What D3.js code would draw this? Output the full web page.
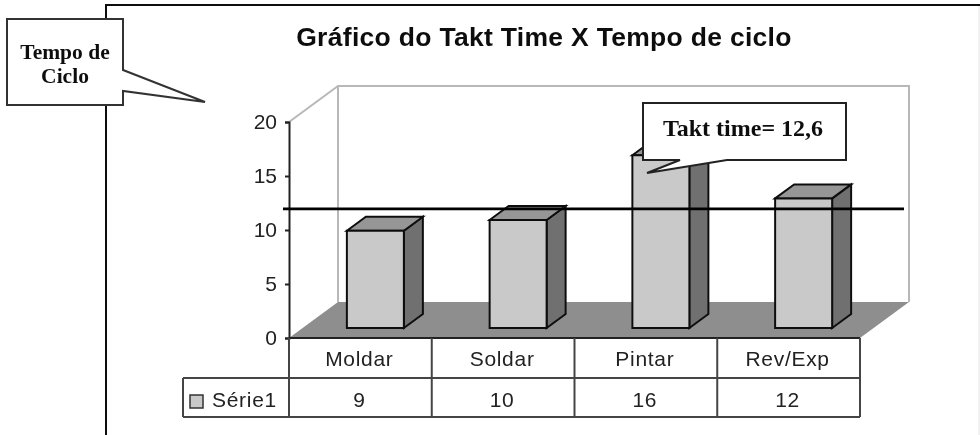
<!DOCTYPE html>
<html><head><meta charset="utf-8">
<script src="https://cdn.jsdelivr.net/npm/d3@7"></script>
<style>html,body{margin:0;padding:0;background:#fff}svg{display:block}</style>
</head><body><svg id="c" width="980" height="435"><defs><filter id="soft" x="0" y="0" width="980" height="435" filterUnits="userSpaceOnUse"><feGaussianBlur stdDeviation="0.5"/></filter></defs><g id="root" filter="url(#soft)"><rect width="980" height="435" fill="#fff"></rect></g></svg>
<script>
const categories = ["Moldar","Soldar","Pintar","Rev/Exp"];
const values = [9,10,16,12];
const yTicks = [0,5,10,15,20];
const seriesName = "Série1";
const taktLineLevel = 11.95;
const title = "Gráfico do Takt Time X Tempo de ciclo";
const taktLabel = "Takt time= 12,6";
const cycleLabel = ["Tempo de","Ciclo"];

const svg = d3.select("#root");
const sans = "'Liberation Sans',Arial,sans-serif", serif = "'Liberation Serif','Times New Roman',serif";
const x = d3.scaleBand().domain(categories).range([289,860]);
const y = d3.scaleLinear().domain([0,20]).range([338,122]);
const wallDx = 49, wallDy = 36;
const barDx = 15, barDy = 10, depthDx = 19, depthDy = 14, barW = 57;
const poly = (pts,fill,stroke,sw) => svg.append("polygon").attr("points",pts.map(p=>p.join(",")).join(" "))
  .attr("fill",fill).attr("stroke",stroke||"none").attr("stroke-width",sw||0).attr("stroke-linejoin","miter");
const line = (x1,y1,x2,y2,stroke,sw) => svg.append("line").attr("x1",x1).attr("y1",y1).attr("x2",x2).attr("y2",y2).attr("stroke",stroke).attr("stroke-width",sw);

// page frame
line(106,5,980,5,"#111",2.2);
line(106,4,106,435,"#111",2);
line(979,6,979,435,"#e4e4e4",1);

// title
svg.append("text").attr("x",544).attr("y",46).attr("text-anchor","middle")
  .attr("font-family",sans).attr("font-weight","bold").attr("font-size",26.5).attr("letter-spacing",0.3).attr("fill","#111").text(title);

// walls & floor
const x0=x.range()[0], x1=x.range()[1], y0=y(0), yT=y(20);
svg.append("path").attr("fill","none").attr("stroke","#b8b8b8").attr("stroke-width",2)
  .attr("d",`M${x0},${yT}L${x0+wallDx},${yT-wallDy}H${x1+wallDx}V${y0-wallDy}M${x0+wallDx},${yT-wallDy}V${y0-wallDy}`);
poly([[x0,y0],[x0+wallDx,y0-wallDy],[x1+wallDx,y0-wallDy],[x1,y0]],"#8e8e8e");

// bars
categories.forEach((c,i)=>{
  const l=x(c)+x.bandwidth()/2-barW/2+barDx, r=l+barW, b=y0-barDy, t=y(values[i])-barDy;
  const s="#111", w=2;
  poly([[r,b],[r+depthDx,b-depthDy],[r+depthDx,t-depthDy],[r,t]],"#707070",s,w);
  poly([[l,t],[l+depthDx,t-depthDy],[r+depthDx,t-depthDy],[r,t]],"#969696",s,w);
  poly([[l,b],[r,b],[r,t],[l,t]],"#c9c9c9",s,w);
});

// y axis
const axis = svg.append("g").attr("transform",`translate(${x0},0)`)
  .call(d3.axisLeft(y).tickValues(yTicks).tickSize(4).tickPadding(8));
axis.selectAll("path,line").attr("stroke","#222").attr("stroke-width",2);
axis.selectAll("text").attr("font-family",sans).attr("font-size",21).attr("fill","#222");

// data table
const rowH=[338,378,417], legL=183, sep=[x0,...categories.map(c=>x(c)+x.bandwidth())];
const tc="#444";
line(x0,rowH[0],x1,rowH[0],"#222",2);
line(legL,rowH[1],x1,rowH[1],tc,2);
line(legL,rowH[2],x1,rowH[2],tc,2);
line(legL,rowH[1],legL,rowH[2],tc,2);
sep.forEach(s=>line(s,rowH[0],s,rowH[2],tc,2));
const cell=(t,cx,cy,a)=>svg.append("text").attr("x",cx).attr("y",cy).attr("text-anchor",a||"middle")
  .attr("font-family",sans).attr("font-size",21).attr("letter-spacing",0.7).attr("fill","#222").text(t);
categories.forEach((c,i)=>{
  const cx=x(c)+x.bandwidth()/2-1;
  cell(c,cx,366);
  cell(values[i],cx,407);
});
svg.append("rect").attr("x",190).attr("y",395).attr("width",13).attr("height",13).attr("fill","#c9c9c9").attr("stroke","#333").attr("stroke-width",1.5);
cell(seriesName,212,407,"start");

// takt line
line(283,y(taktLineLevel),904,y(taktLineLevel),"#000",2.8);

// callouts
poly([[7,19],[123,19],[123,70],[205,102],[123,91],[123,105],[7,105]],"#fff","#333",2);
cycleLabel.forEach((t,i)=>svg.append("text").attr("x",65).attr("y",[59,83][i]).attr("text-anchor","middle")
  .attr("font-family",serif).attr("font-weight","bold").attr("font-size",21.5).attr("fill","#111").text(t));
poly([[643,103],[846,103],[846,160],[727,160],[647,173],[680,160],[643,160]],"#fff","#222",2);
svg.append("text").attr("x",743).attr("y",136).attr("text-anchor","middle")
  .attr("font-family",serif).attr("font-weight","bold").attr("font-size",24).attr("fill","#111").text(taktLabel);
</script></body></html>
